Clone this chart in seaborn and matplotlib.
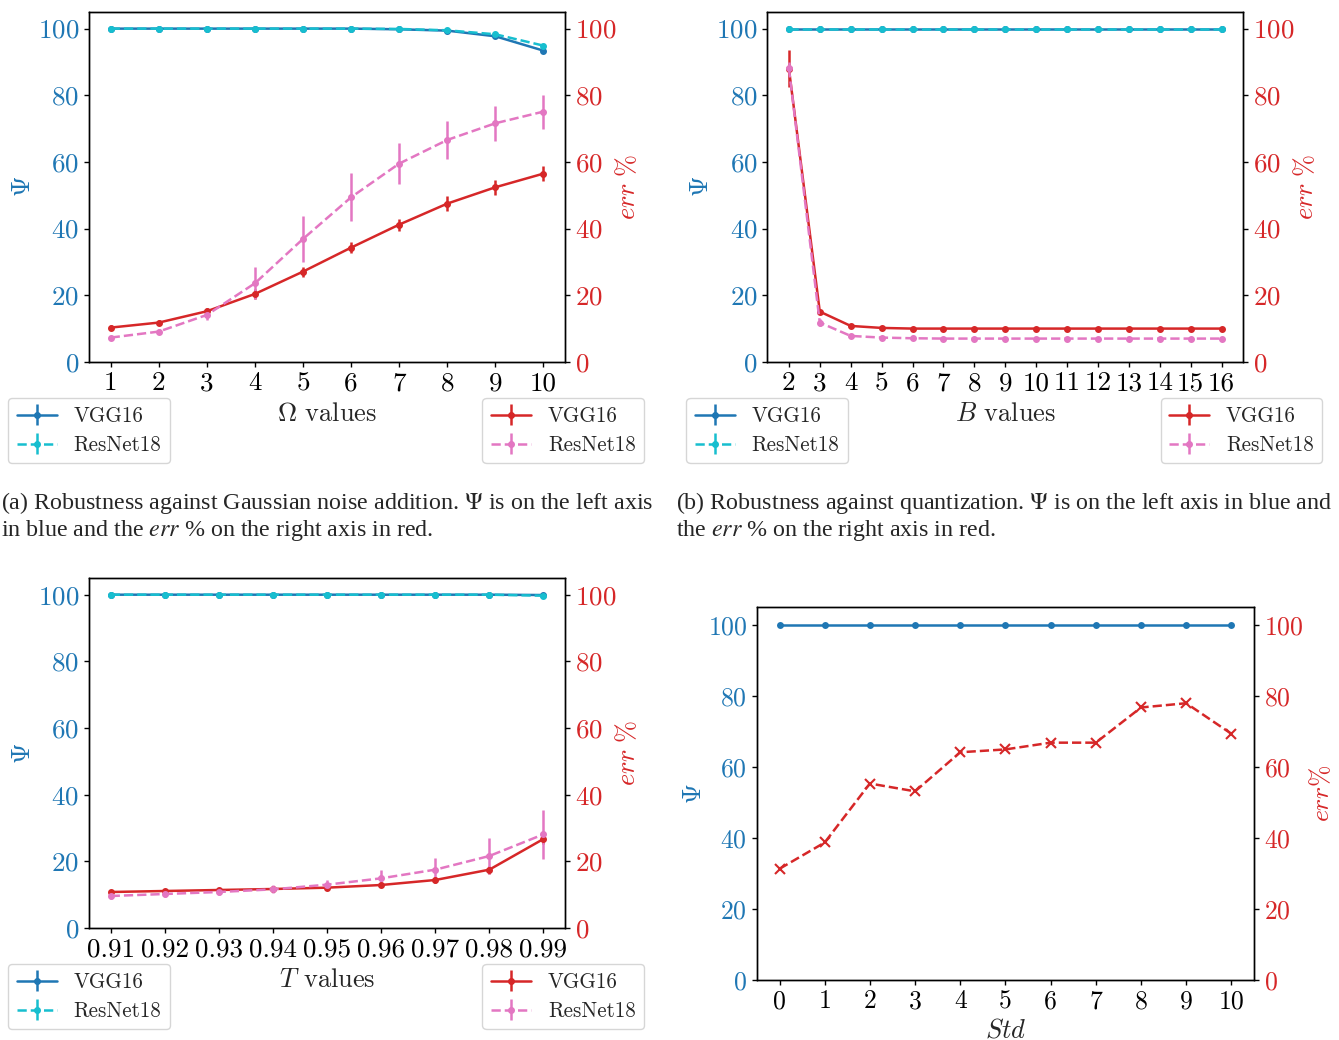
import numpy as np
import pandas as pd
import seaborn as sns
import matplotlib.pyplot as plt

# ---- data ----
omega = [1, 2, 3, 4, 5, 6, 7, 8, 9, 10]
a_psi_vgg = [100, 100, 100, 100, 100, 100, 99.8, 99.4, 97.7, 93.4]
a_psi_res = [100, 100, 100, 100, 100, 100, 99.9, 99.5, 98.3, 94.9]
a_psi_vgg_sd = [0, 0, 0, 0, 0, 0, 0, 0, 0.3, 0.4]
a_psi_res_sd = [0, 0, 0, 0, 0, 0, 0, 0, 0.3, 0.4]
a_err_vgg = [10.3, 11.8, 15.2, 20.4, 27.1, 34.3, 41.2, 47.5, 52.4, 56.5]
a_err_vgg_sd = [0.8, 0.8, 1.0, 1.5, 1.5, 1.7, 1.8, 2.2, 2.3, 2.3]
a_err_res = [7.3, 9.1, 14.1, 23.6, 36.9, 49.4, 59.5, 66.6, 71.6, 75.1]
a_err_res_sd = [0.6, 0.8, 1.5, 4.8, 6.8, 7.2, 6.2, 5.7, 5.3, 5.1]

bits = [2, 3, 4, 5, 6, 7, 8, 9, 10, 11, 12, 13, 14, 15, 16]
b_psi_vgg = [100, 100, 100, 100, 100, 100, 100, 100, 100, 100, 100, 100, 100, 100, 100]
b_psi_res = [100, 100, 100, 100, 100, 100, 100, 100, 100, 100, 100, 100, 100, 100, 100]
b_psi_sd = [0, 0, 0, 0, 0, 0, 0, 0, 0, 0, 0, 0, 0, 0, 0]
b_err_vgg = [88.0, 15.1, 10.8, 10.2, 10.0, 10.0, 10.0, 10.0, 10.0, 10.0, 10.0, 10.0, 10.0, 10.0, 10.0]
b_err_vgg_sd = [5.5, 0.5, 0.4, 0.2, 0.1, 0.1, 0.1, 0.1, 0.1, 0.1, 0.1, 0.1, 0.1, 0.1, 0.1]
b_err_res = [88.1, 11.8, 7.8, 7.3, 7.1, 7.0, 7.0, 7.0, 7.0, 7.0, 7.0, 7.0, 7.0, 7.0, 7.0]
b_err_res_sd = [2.0, 1.0, 0.4, 0.2, 0.1, 0.1, 0.1, 0.1, 0.1, 0.1, 0.1, 0.1, 0.1, 0.1, 0.1]

temps = [0.91, 0.92, 0.93, 0.94, 0.95, 0.96, 0.97, 0.98, 0.99]
c_psi_vgg = [100, 100, 100, 100, 100, 100, 100, 100, 99.9]
c_psi_res = [100, 100, 100, 100, 100, 100, 100, 100, 99.7]
c_psi_sd = [0, 0, 0, 0, 0, 0, 0, 0, 0.1]
c_err_vgg = [10.8, 11.1, 11.4, 11.7, 12.1, 12.9, 14.4, 17.5, 26.7]
c_err_vgg_sd = [0.5, 0.5, 0.5, 0.6, 0.7, 0.7, 0.8, 1.2, 1.5]
c_err_res = [9.6, 10.2, 10.8, 11.6, 13.0, 14.9, 17.5, 21.6, 28.1]
c_err_res_sd = [0.8, 1.0, 1.0, 1.2, 1.5, 2.5, 3.6, 5.5, 7.3]

stds = [0, 1, 2, 3, 4, 5, 6, 7, 8, 9, 10]
d_psi = [100, 100, 100, 100, 100, 100, 100, 100, 100, 100, 100]
d_err = [31.3, 38.7, 55.3, 53.1, 64.1, 64.9, 66.8, 66.8, 76.7, 77.9, 69.3]

caption_a = ("(a) Robustness against Gaussian noise addition. $\\Psi$ is on the left axis\n"
             "in blue and the $err$ % on the right axis in red.")
caption_b = ("(b) Robustness against quantization. $\\Psi$ is on the left axis in blue and\n"
             "the $err$ % on the right axis in red.")

sns.set_theme(context='notebook', style='ticks')
plt.rcParams.update({
    'font.family': 'serif',
    'font.serif': ['cmr10'],
    'mathtext.fontset': 'cm',
    'axes.formatter.use_mathtext': True,
    'axes.unicode_minus': False,
    'axes.edgecolor': 'black',
    'axes.linewidth': 1.0,
    'xtick.color': 'black',
    'ytick.color': 'black',
    'xtick.major.width': 1.0,
    'ytick.major.width': 1.0,
    'xtick.major.size': 3.5,
    'ytick.major.size': 3.5,
})

BLUE, CYAN, RED, PINK = 'tab:blue', 'tab:cyan', 'tab:red', 'tab:pink'
TICK_FS = 19.5
LAB_FS = 19


def panel(ax, x, psi_v, psi_v_sd, psi_r, psi_r_sd, err_v, err_v_sd, err_r, err_r_sd, xlabel, xtl):
    ax2 = ax.twinx()
    kw = dict(fmt='.', ms=8, lw=1.8, elinewidth=1.8)
    ax.errorbar(x, psi_v, yerr=psi_v_sd, color=BLUE, ls='-', label='VGG16', **kw)
    ax.errorbar(x, psi_r, yerr=psi_r_sd, color=CYAN, ls='--', label='ResNet18', **kw)
    ax2.errorbar(x, err_v, yerr=err_v_sd, color=RED, ls='-', label='VGG16', **kw)
    ax2.errorbar(x, err_r, yerr=err_r_sd, color=PINK, ls='--', label='ResNet18', **kw)
    for a, c in ((ax, BLUE), (ax2, RED)):
        a.set_ylim(0, 105)
        a.set_yticks([0, 20, 40, 60, 80, 100])
        a.tick_params(axis='y', labelcolor=c, labelsize=TICK_FS)
    ax.set_xticks(x, labels=xtl)
    ax.tick_params(axis='x', labelsize=TICK_FS)
    ax.set_ylabel(r'$\Psi$', color=BLUE, fontsize=LAB_FS)
    ax.yaxis.set_label_coords(-0.113, 0.5)
    ax2.set_ylabel(r'$err\ \%$', color=RED, fontsize=LAB_FS, rotation=90)
    ax2.yaxis.set_label_coords(1.104, 0.5)
    ax.set_xlabel(xlabel, fontsize=LAB_FS)
    ax.xaxis.set_label_coords(0.5, -0.116)
    lkw = dict(fontsize=15.2, labelspacing=0.45, borderaxespad=0, handlelength=1.9,
               frameon=True, fancybox=True, edgecolor='0.8', framealpha=0.8)
    ax.legend(loc='upper left', bbox_to_anchor=(-0.17, -0.103), **lkw)
    ax2.legend(loc='upper right', bbox_to_anchor=(1.166, -0.103), **lkw)
    return ax2


fig = plt.figure(figsize=(13.39, 10.4), dpi=100)
ax_a = fig.add_axes([0.0665, 0.652, 0.3555, 0.3365])
ax_b = fig.add_axes([0.573, 0.652, 0.3555, 0.3365])
ax_c = fig.add_axes([0.0665, 0.1077, 0.3555, 0.3365])
ax_d = fig.add_axes([0.5653, 0.0577, 0.3712, 0.3587])

panel(ax_a, omega, a_psi_vgg, a_psi_vgg_sd, a_psi_res, a_psi_res_sd,
      a_err_vgg, a_err_vgg_sd, a_err_res, a_err_res_sd,
      r'$\Omega$ values', [str(v) for v in omega])
panel(ax_b, bits, b_psi_vgg, b_psi_sd, b_psi_res, b_psi_sd,
      b_err_vgg, b_err_vgg_sd, b_err_res, b_err_res_sd,
      r'$B$ values', [str(v) for v in bits])
panel(ax_c, temps, c_psi_vgg, c_psi_sd, c_psi_res, c_psi_sd,
      c_err_vgg, c_err_vgg_sd, c_err_res, c_err_res_sd,
      r'$T$ values', [f'{v:.2f}' for v in temps])

# panel (d)
ax_d2 = ax_d.twinx()
sns.lineplot(x=stds, y=d_psi, ax=ax_d, color=BLUE, marker='o', markersize=5,
             markeredgewidth=0, lw=1.8)
sns.lineplot(x=stds, y=d_err, ax=ax_d2, color=RED, linestyle='--', marker='x',
             markersize=7, markeredgewidth=1.5, markeredgecolor=RED, lw=1.8)
for a, c in ((ax_d, BLUE), (ax_d2, RED)):
    a.set_ylim(0, 105)
    a.set_yticks([0, 20, 40, 60, 80, 100])
    a.tick_params(axis='y', labelcolor=c, labelsize=18.5)
ax_d.set_xticks(stds, labels=[str(v) for v in stds])
ax_d.tick_params(axis='x', labelsize=18.5)
ax_d.set_ylabel(r'$\Psi$', color=BLUE, fontsize=18.5)
ax_d.yaxis.set_label_coords(-0.102, 0.5)
ax_d2.set_ylabel(r'$err\%$', color=RED, fontsize=18.5)
ax_d2.yaxis.set_label_coords(1.109, 0.5)
ax_d.set_xlabel(r'$Std$', fontsize=19)
ax_d.xaxis.set_label_coords(0.5, -0.103)

# captions
fig.text(0.0005, 0.529, caption_a, ha='left', va='top', fontsize=17.3,
         family='Liberation Serif', math_fontfamily='stix', linespacing=1.1)
fig.text(0.505, 0.529, caption_b, ha='left', va='top', fontsize=17.3,
         family='Liberation Serif', math_fontfamily='stix', linespacing=1.1)

fig.savefig('out.png', dpi=100)
